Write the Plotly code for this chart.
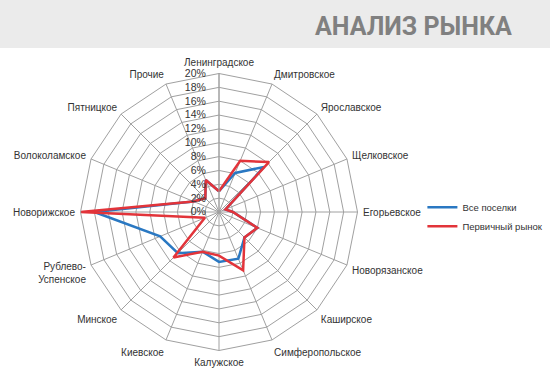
import plotly.graph_objects as go

categories = ["Ленинградское", "Дмитровское", "Ярославское", "Щелковское", "Егорьевское",
              "Новорязанское", "Каширское", "Симферопольское", "Калужское", "Киевское",
              "Минское", "Рублево-<br>Успенское", "Новорижское", "Волоколамское",
              "Пятницкое", "Прочие"]
all_villages = [3.0, 6.1, 9.2, 1.0, 2.0, 6.0, 5.2, 7.3, 7.2, 6.2, 8.4, 9.2, 18.0, 4.0, 2.8, 5.0]
primary_market = [3.0, 8.0, 10.2, 1.0, 2.0, 6.0, 5.2, 9.1, 6.3, 6.2, 9.3, 2.2, 20.0, 4.0, 2.8, 5.0]
series_names = ["Все поселки", "Первичный рынок"]
radial_ticks = list(range(0, 21, 2))

fig = go.Figure()
fig.add_trace(go.Scatterpolar(r=all_villages + all_villages[:1], theta=categories + categories[:1],
                              mode="lines", name=series_names[0],
                              line=dict(color="#2a78c2", width=2.5)))
fig.add_trace(go.Scatterpolar(r=primary_market + primary_market[:1], theta=categories + categories[:1],
                              mode="lines", name=series_names[1],
                              line=dict(color="#e2343a", width=2.5)))

cx, cy, R = 219, 212, 138.5
W, H = 550, 375
fig.update_layout(
    width=W, height=H,
    margin=dict(l=0, r=0, t=0, b=0, autoexpand=False),
    paper_bgcolor="white",
    plot_bgcolor="white",
    font=dict(family="Liberation Sans, Arial", size=10, color="#333333"),
    polar=dict(
        domain=dict(x=[(cx - R) / W, (cx + R) / W], y=[(H - cy - R) / H, (H - cy + R) / H]),
        bgcolor="white",
        gridshape="linear",
        angularaxis=dict(rotation=90, direction="clockwise", categoryorder="array",
                         categoryarray=categories,
                         linecolor="#a0a0a0", linewidth=1, gridcolor="#a0a0a0", gridwidth=1,
                         ticks="outside", ticklen=3, tickcolor="rgba(0,0,0,0)",
                         tickfont=dict(size=10, color="#333333")),
        radialaxis=dict(range=[0, 20], tickvals=radial_ticks,
                        ticktext=[f"{v}%" for v in radial_ticks],
                        angle=90, tickangle=90, side="counterclockwise",
                        showline=True, linecolor="#a0a0a0", linewidth=1,
                        gridcolor="#a0a0a0", gridwidth=1,
                        ticks="outside", ticklen=9, tickcolor="rgba(0,0,0,0)",
                        tickfont=dict(size=10.5, color="#333333")),
    ),
    legend=dict(x=0.768, y=0.422, xanchor="left", yanchor="middle",
                font=dict(size=9.5, color="#333333"), bgcolor="rgba(0,0,0,0)",
                tracegroupgap=0, itemwidth=30),
    shapes=[dict(type="rect", xref="paper", yref="paper", x0=0, x1=1,
                 y0=(H - 48) / H, y1=1, fillcolor="#ebebeb", line=dict(width=0), layer="below")],
    annotations=[dict(text="<b>АНАЛИЗ РЫНКА</b>", xref="paper", yref="paper",
                      x=(W - 36) / W, y=(H - 26) / H, xanchor="right", yanchor="middle",
                      showarrow=False, font=dict(family="Roboto", size=25, color="#808080"))],
)

fig.write_html("out.html", config={"displayModeBar": False},
               post_script="document.body.style.margin='0px';")
